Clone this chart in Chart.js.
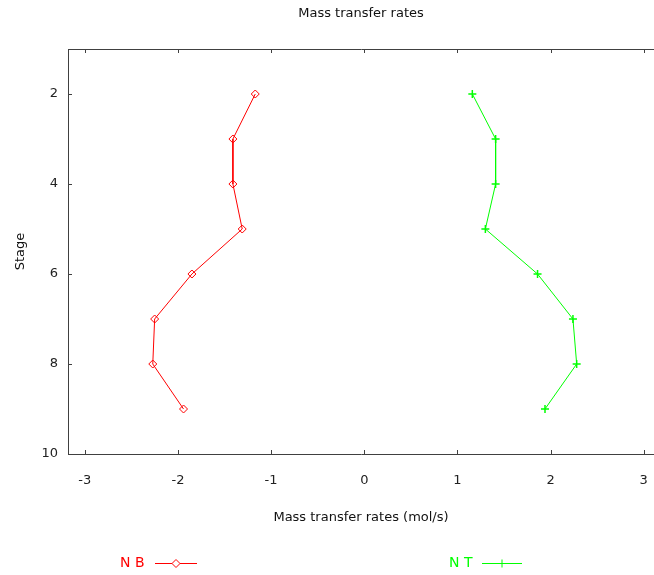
<!DOCTYPE html>
<html>
<head>
<meta charset="utf-8">
<script src="https://cdn.jsdelivr.net/npm/chart.js@4"></script>
<style>
  html, body { margin: 0; padding: 0; background: #fff; overflow: hidden; }
  canvas { display: block; }
</style>
</head>
<body>
<canvas id="chart" width="654" height="575"></canvas>
<script>
// Dados
const stages = [2, 3, 4, 5, 6, 7, 8, 9];
const nbRates = [-1.17, -1.41, -1.41, -1.31, -1.85, -2.25, -2.27, -1.94];
const ntRates = [1.16, 1.41, 1.41, 1.30, 1.86, 2.24, 2.28, 1.94];
const xTicks = [-3, -2, -1, 0, 1, 2, 3];
const yTicks = [2, 4, 6, 8, 10];

const FONT = "'DejaVu Sans', sans-serif";
const AXIS_COLOR = '#404040';

// Ticks para dentro da área do gráfico (estilo gnuplot)
const innerTicks = {
  id: 'innerTicks',
  afterDraw(chart) {
    const ctx = chart.ctx;
    const area = chart.chartArea;
    const len = 4;
    ctx.save();
    ctx.strokeStyle = AXIS_COLOR;
    ctx.lineWidth = 1;
    ctx.beginPath();
    xTicks.forEach(v => {
      const px = Math.round(chart.scales.x.getPixelForValue(v)) + 0.5;
      ctx.moveTo(px, area.bottom);
      ctx.lineTo(px, area.bottom - len);
      ctx.moveTo(px, area.top);
      ctx.lineTo(px, area.top + len);
    });
    yTicks.forEach(v => {
      const py = Math.round(chart.scales.y.getPixelForValue(v)) + 0.5;
      ctx.moveTo(area.left, py);
      ctx.lineTo(area.left + len, py);
    });
    ctx.stroke();
    ctx.restore();
  }
};

// Título e legenda (texto antes da amostra de linha)
const titleAndLegend = {
  id: 'titleAndLegend',
  afterDraw(chart) {
    const ctx = chart.ctx;
    const area = chart.chartArea;
    ctx.save();
    ctx.fillStyle = '#111';
    ctx.font = '13px ' + FONT;
    ctx.textAlign = 'center';
    ctx.textBaseline = 'middle';
    ctx.fillText('Mass transfer rates', (area.left + area.right) / 2, 14);

    const items = [
      { ds: 0, textX: 120, lineX0: 155, lineX1: 197 },
      { ds: 1, textX: 449, lineX0: 482, lineX1: 522 }
    ];
    const y = 563;
    items.forEach(it => {
      const dataset = chart.data.datasets[it.ds];
      ctx.fillStyle = dataset.borderColor;
      ctx.strokeStyle = dataset.borderColor;
      ctx.font = '14px ' + FONT;
      ctx.textAlign = 'left';
      ctx.fillText(dataset.label, it.textX, y);
      ctx.lineWidth = 1;
      ctx.beginPath();
      ctx.moveTo(it.lineX0, y + 0.5);
      ctx.lineTo(it.lineX1, y + 0.5);
      ctx.stroke();
      ctx.fillStyle = '#fff';
      Chart.helpers.drawPoint(ctx, {
        pointStyle: dataset.pointStyle,
        radius: dataset.pointRadius,
        borderWidth: 1
      }, (it.lineX0 + it.lineX1) / 2, y + 0.5);
    });
    ctx.restore();
  }
};

// Sem folga lateral para os rótulos: a área vai até a borda direita
const noSidePadding = s => { s.paddingLeft = 0; s.paddingRight = 0; };

const ctx = document.getElementById('chart');

new Chart(ctx, {
  type: 'line',
  data: {
    datasets: [
      {
        label: 'N B',
        data: stages.map((s, i) => ({ x: nbRates[i], y: s })),
        borderColor: '#ff0000',
        backgroundColor: 'rgba(0,0,0,0)',
        borderWidth: 1,
        pointStyle: 'rectRot',
        pointRadius: 4,
        pointBorderWidth: 1,
        pointBackgroundColor: 'rgba(0,0,0,0)',
        tension: 0
      },
      {
        label: 'N T',
        data: stages.map((s, i) => ({ x: ntRates[i], y: s })),
        borderColor: '#00ff00',
        backgroundColor: 'rgba(0,0,0,0)',
        borderWidth: 1,
        pointStyle: 'cross',
        pointRadius: 4,
        pointBorderWidth: 1.5,
        tension: 0
      }
    ]
  },
  options: {
    responsive: false,
    animation: false,
    layout: { padding: 0, autoPadding: false },
    plugins: {
      legend: { display: false },
      title: { display: false },
      tooltip: { enabled: false }
    },
    scales: {
      x: {
        type: 'linear',
        position: 'bottom',
        min: -3.18,
        max: 3.11,
        afterBuildTicks: s => { s.ticks = xTicks.map(v => ({ value: v })); },
        afterFit: s => { s.height = 121; noSidePadding(s); },
        grid: { display: true, drawOnChartArea: false, drawTicks: false },
        border: { display: true, color: AXIS_COLOR, width: 1 },
        ticks: { padding: 19, color: '#222', font: { family: FONT, size: 13 } },
        title: {
          display: true,
          text: 'Mass transfer rates (mol/s)',
          color: '#111',
          font: { family: FONT, size: 13 },
          padding: { top: 0, bottom: 50 }
        }
      },
      x2: {
        type: 'linear',
        position: 'top',
        min: -3.18,
        max: 3.11,
        afterFit: s => { s.height = 49; noSidePadding(s); },
        grid: { display: true, drawOnChartArea: false, drawTicks: false },
        border: { display: true, color: AXIS_COLOR, width: 1 },
        ticks: { display: false }
      },
      y: {
        type: 'linear',
        position: 'left',
        reverse: true,
        min: 1,
        max: 10,
        afterBuildTicks: s => { s.ticks = yTicks.map(v => ({ value: v })); },
        afterFit: s => { s.width = 68; s.paddingTop = 0; s.paddingBottom = 0; },
        grid: { display: true, drawOnChartArea: false, drawTicks: false },
        border: { display: true, color: AXIS_COLOR, width: 1 },
        ticks: { padding: 10, color: '#222', font: { family: FONT, size: 13 } },
        title: {
          display: true,
          text: 'Stage',
          color: '#111',
          font: { family: FONT, size: 13 },
          padding: { top: 13, bottom: 0 }
        }
      }
    }
  },
  plugins: [innerTicks, titleAndLegend]
});
</script>
</body>
</html>
